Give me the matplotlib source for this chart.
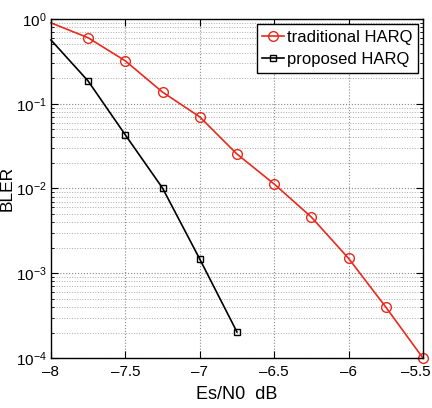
import matplotlib
matplotlib.use("Agg")
import matplotlib.pyplot as plt
from matplotlib.ticker import LogLocator, NullFormatter
from matplotlib.transforms import ScaledTranslation

plt.rcParams["font.family"] = ["Liberation Sans", "DejaVu Sans"]
plt.rcParams["mathtext.fontset"] = "custom"
plt.rcParams["mathtext.rm"] = "Liberation Sans"

# Es/N0 in dB
snr_trad = [-8.0, -7.75, -7.5, -7.25, -7.0, -6.75, -6.5, -6.25, -6.0, -5.75, -5.5]
bler_trad = [0.9, 0.6, 0.32, 0.137, 0.07, 0.0255, 0.0113, 0.0046, 0.0015, 0.0004, 0.0001]

snr_prop = [-8.0, -7.75, -7.5, -7.25, -7.0, -6.75]
bler_prop = [0.565, 0.185, 0.0428, 0.0101, 0.00147, 0.000203]

x_ticks = [-8, -7.5, -7, -6.5, -6, -5.5]
x_ticklabels = ["\u20138", "\u20137.5", "\u20137", "\u20136.5", "\u20136", "\u20135.5"]

fig = plt.figure(figsize=(4.32, 4.08), dpi=100)
ax = fig.add_axes([0.118, 0.1225, 0.861, 0.831])

ax.semilogy(snr_trad, bler_trad, color="#e8291c", marker="o", markersize=7,
            markerfacecolor="none", markeredgewidth=1.0, linewidth=1.2,
            markevery=list(range(1, len(snr_trad))), label="traditional HARQ", clip_on=False)
ax.semilogy(snr_prop, bler_prop, color="black", marker="s", markersize=5,
            markerfacecolor="none", markeredgewidth=1.0, linewidth=1.2,
            markevery=list(range(1, len(snr_prop))), label="proposed HARQ", clip_on=False)

ax.set_xlim(-8, -5.5)
ax.set_ylim(1e-4, 1)
ax.set_xticks(x_ticks)
ax.set_xticklabels(x_ticklabels)
ax.yaxis.set_major_locator(LogLocator(base=10, numticks=10))
ax.yaxis.set_minor_locator(LogLocator(base=10, subs=range(2, 10), numticks=10))
ax.yaxis.set_minor_formatter(NullFormatter())

ax.grid(True, which="major", linestyle=":", color="#888888", linewidth=0.8)
ax.grid(True, which="minor", axis="y", linestyle=":", color="#aaaaaa", linewidth=0.7)

ax.tick_params(which="both", direction="in", top=True, right=True, labelsize=11)
ax.tick_params(which="major", length=5, pad=3)
ax.tick_params(axis="x", which="major", pad=5)
ax.tick_params(which="minor", length=2.5)
for s in ax.spines.values():
    s.set_linewidth(1.0)

# keep the last x label inside the figure, as in the original
last = ax.xaxis.get_major_ticks()[-1].label1
last.set_transform(last.get_transform() + ScaledTranslation(-5 / 72, 0, fig.dpi_scale_trans))

ax.set_xlabel("Es/N0  dB", fontsize=13, labelpad=5)
ax.set_ylabel("BLER", fontsize=12.5, labelpad=1)

leg = ax.legend(loc="upper right", fontsize=12, fancybox=False, framealpha=1,
                edgecolor="black", handlelength=1.3, handletextpad=0.15,
                borderpad=0.35, labelspacing=0.45, borderaxespad=0.3)
leg.get_frame().set_linewidth(1.0)

fig.savefig("out.png", dpi=100)
